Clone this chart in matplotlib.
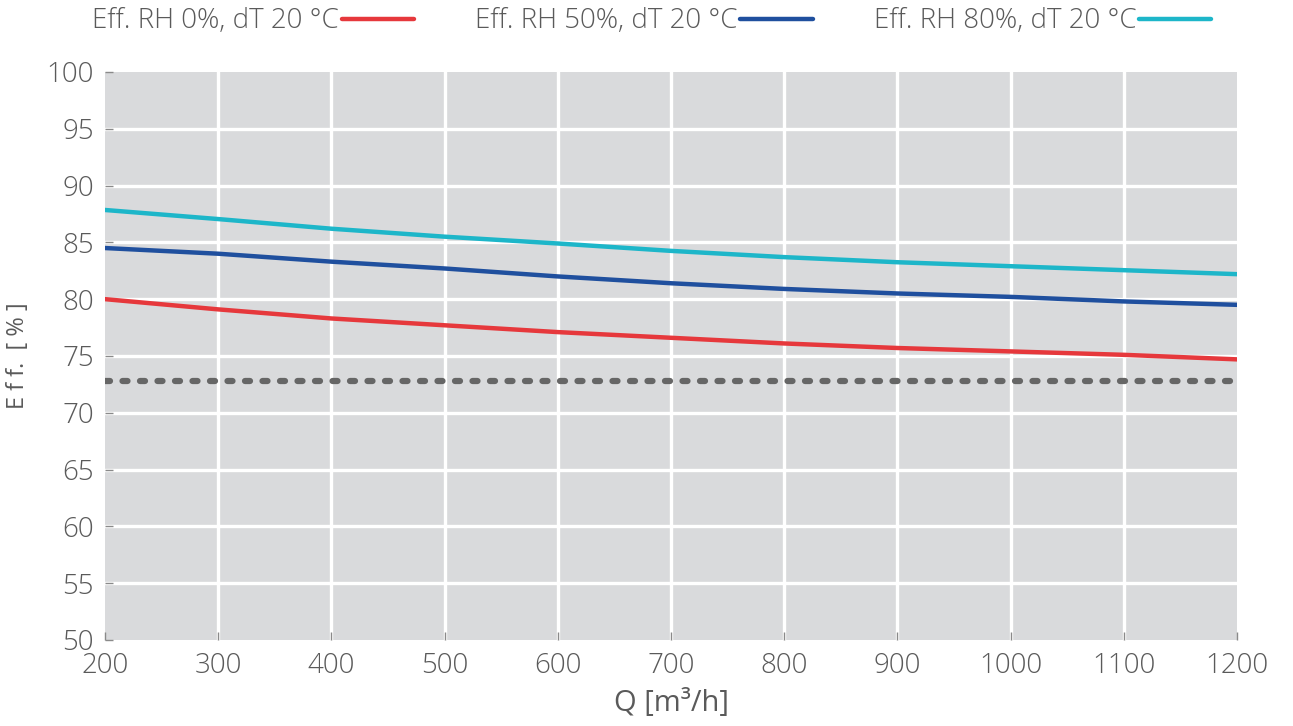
import matplotlib
matplotlib.use("Agg")
from matplotlib import pyplot as plt

# Air flow [m3/h]
q = [200, 300, 400, 500, 600, 700, 800, 900, 1000, 1100, 1200]
# Efficiency curves [%]
eff_rh0 = [80.0, 79.1, 78.3, 77.7, 77.1, 76.6, 76.1, 75.7, 75.4, 75.1, 74.7]
eff_rh50 = [84.5, 84.0, 83.3, 82.7, 82.0, 81.4, 80.9, 80.5, 80.2, 79.8, 79.5]
eff_rh80 = [87.85, 87.05, 86.2, 85.5, 84.9, 84.25, 83.7, 83.25, 82.9, 82.55, 82.2]
eff_limit = 72.8

labels = ['Eff. RH 0%, dT 20 °C', 'Eff. RH 50%, dT 20 °C', 'Eff. RH 80%, dT 20 °C']
colors = ['#e6383c', '#1f4f9e', '#1db6c9']

text_col = '#5a5a5a'
plt.rcParams['font.family'] = ['Open Sans', 'DejaVu Sans']
plt.rcParams['font.weight'] = 'light'

fig = plt.figure(figsize=(12.93, 7.26), dpi=100)
ax = fig.add_axes([0.0812, 0.1185, 0.8755, 0.7824])
ax.set_facecolor('#d9dadc')

for series, lab, col in zip([eff_rh0, eff_rh50, eff_rh80], labels, colors):
    ax.plot(q, series, color=col, lw=3.2, label=lab, solid_capstyle='round', zorder=3)

# dotted reference line
ax.axhline(eff_limit, color='#666666', lw=4.5, linestyle=(0, (0.8, 2.0)),
           dash_capstyle='round', zorder=3)

ax.set_xlim(200, 1200)
ax.set_ylim(50, 100)
ax.set_xticks(range(200, 1201, 100))
ax.set_yticks(range(50, 101, 5))

# white grid inside the grey plot area
for x in range(300, 1200, 100):
    ax.axvline(x, color='white', lw=2.4, zorder=1)
for y in range(55, 100, 5):
    ax.axhline(y, color='white', lw=2.4, zorder=1)

for s in ax.spines.values():
    s.set_visible(False)

ax.tick_params(axis='both', direction='in', length=6, width=1, color='#8a8a8a',
               labelsize=20, labelcolor=text_col)
ax.tick_params(axis='x', pad=9)
ax.tick_params(axis='y', pad=8)

ax.set_xlabel('Q [m³/h]', fontsize=21, color=text_col, labelpad=6)
ax.set_ylabel('E f f.  [ % ]', fontsize=17, color=text_col, labelpad=12)

leg = ax.legend(loc='lower center', bbox_to_anchor=(0.483, 1.045), ncol=3,
                frameon=False, markerfirst=False, fontsize=20, handlelength=2.6,
                handletextpad=0.1, columnspacing=2.2, borderaxespad=0)
for t in leg.get_texts():
    t.set_color(text_col)

fig.savefig('out.png', dpi=100)
